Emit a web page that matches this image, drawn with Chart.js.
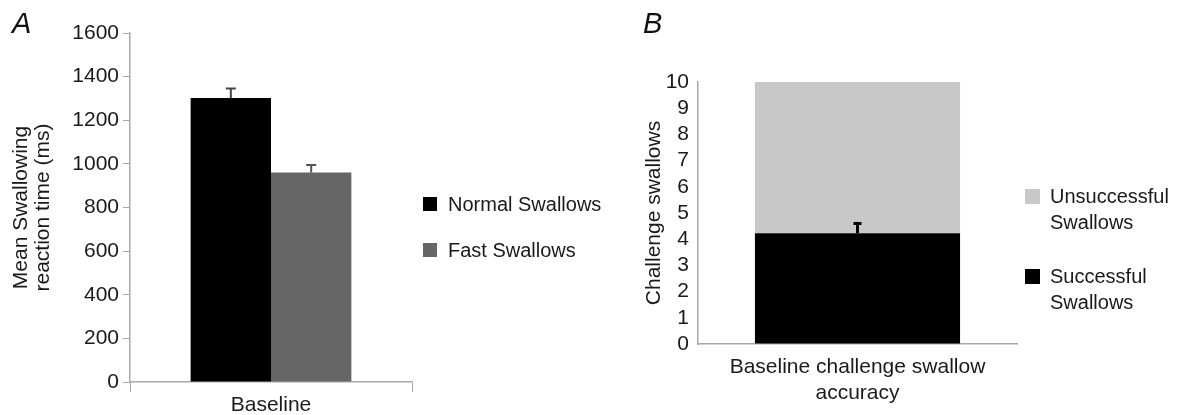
<!DOCTYPE html>
<html>
<head>
<meta charset="utf-8">
<script src="https://cdn.jsdelivr.net/npm/chart.js@4.4.1/dist/chart.umd.min.js"></script>
<style>
  body { margin: 0; background: #fff; font-family: 'Liberation Sans', Arial, sans-serif; }
  #wrap { position: relative; width: 1183px; height: 415px; overflow: hidden; }
  canvas { position: absolute; top: 0; }
  #chartA { left: 0; }
  #chartB { left: 600px; }
  .leg { position: absolute; font-size: 20px; color: #1a1a1a; line-height: 26px; white-space: nowrap; }
  .leg span.box { position: absolute; left: 0; }
  .leg span.txt { position: absolute; }
</style>
</head>
<body>
<div id="wrap">
  <canvas id="chartA" width="600" height="415"></canvas>
  <canvas id="chartB" width="583" height="415"></canvas>
  <div id="legendA"></div>
  <div id="legendB"></div>
</div>
<script>
'use strict';

// panel A - reaction time
const groupLabels = ['Baseline'];
const normalMeans = [1302];
const normalErr = [43];
const fastMeans = [960];
const fastErr = [35];
const rtTicks = [0, 200, 400, 600, 800, 1000, 1200, 1400, 1600];

// panel B - challenge swallows
const accuracyLabels = [['Baseline challenge swallow', 'accuracy']];
const successful = [4.23];
const successfulErr = [0.37];
const unsuccessful = [5.77];
const countTicks = [0, 1, 2, 3, 4, 5, 6, 7, 8, 9, 10];

Chart.defaults.font.family = "'Liberation Sans', Arial, sans-serif";
Chart.defaults.font.size = 20;
Chart.defaults.color = '#1a1a1a';

const axisGray = '#a8a8a8';
const tickFont = { size: 21 };

// draws the upward error bar on each bar that has errorBars
const errorBarPlugin = {
  id: 'errorBars',
  afterDatasetsDraw(chart) {
    const ctx = chart.ctx;
    const yScale = chart.scales.y;
    chart.data.datasets.forEach((ds, i) => {
      if (!ds.errorBars) return;
      const meta = chart.getDatasetMeta(i);
      meta.data.forEach((bar, j) => {
        const err = ds.errorBars[j];
        const top = yScale.getPixelForValue(ds.data[j] + err);
        ctx.save();
        ctx.strokeStyle = ds.errorColor;
        ctx.lineWidth = ds.errorWidth;
        ctx.beginPath();
        ctx.moveTo(bar.x, bar.y);
        ctx.lineTo(bar.x, top);
        ctx.moveTo(bar.x - ds.capHalf, top);
        ctx.lineTo(bar.x + ds.capHalf, top);
        ctx.stroke();
        ctx.restore();
      });
    });
  }
};

// panel letter (A / B) in the corner
const panelLetter = {
  id: 'panelLetter',
  afterDraw(chart, args, opts) {
    const ctx = chart.ctx;
    ctx.save();
    ctx.font = "italic 29px 'Liberation Sans', Arial, sans-serif";
    ctx.fillStyle = '#111';
    ctx.textBaseline = 'alphabetic';
    ctx.fillText(opts.text, opts.x, opts.y);
    ctx.restore();
  }
};

new Chart(document.getElementById('chartA'), {
  type: 'bar',
  data: {
    labels: groupLabels,
    datasets: [{
      label: 'Normal Swallows',
      data: normalMeans,
      backgroundColor: '#000000',
      errorBars: normalErr,
      errorColor: '#444',
      errorWidth: 2,
      capHalf: 5
    }, {
      label: 'Fast Swallows',
      data: fastMeans,
      backgroundColor: '#666666',
      errorBars: fastErr,
      errorColor: '#555',
      errorWidth: 2,
      capHalf: 5
    }]
  },
  options: {
    responsive: false,
    animation: false,
    devicePixelRatio: 1,
    layout: { padding: { top: 33, right: 188, left: 0, bottom: 0 } },
    datasets: { bar: { categoryPercentage: 0.57, barPercentage: 1.0 } },
    plugins: {
      legend: { display: false },
      tooltip: { enabled: false },
      panelLetter: { text: 'A', x: 12, y: 33 }
    },
    scales: {
      x: {
        grid: { drawOnChartArea: false, tickLength: 10, color: axisGray },
        border: { color: axisGray, width: 1.5 },
        ticks: { padding: 1, font: tickFont },
        afterFit: (s) => { s.height = 33; }
      },
      y: {
        min: 0,
        max: 1600,
        afterBuildTicks: (s) => { s.ticks = rtTicks.map(v => ({ value: v })); },
        grid: { drawOnChartArea: false, tickLength: 7, color: axisGray },
        border: { color: axisGray, width: 1.5 },
        ticks: { padding: 4, font: tickFont, autoSkip: false, callback: (v) => String(v) },
        title: {
          display: true,
          text: ['Mean Swallowing', 'reaction time (ms)'],
          font: { size: 21, lineHeight: 1.05 },
          padding: { top: 10, bottom: 0 }
        },
        afterFit: (s) => { s.width = 130; }
      }
    }
  },
  plugins: [errorBarPlugin, panelLetter]
});

new Chart(document.getElementById('chartB'), {
  type: 'bar',
  data: {
    labels: accuracyLabels,
    datasets: [{
      label: ['Successful', 'Swallows'],
      data: successful,
      backgroundColor: '#000000',
      errorBars: successfulErr,
      errorColor: '#000',
      errorWidth: 3,
      capHalf: 4
    }, {
      label: ['Unsuccessful', 'Swallows'],
      data: unsuccessful,
      backgroundColor: '#c8c8c8'
    }]
  },
  options: {
    responsive: false,
    animation: false,
    devicePixelRatio: 1,
    layout: { padding: { top: 82, right: 166, left: 0, bottom: 0 } },
    datasets: { bar: { categoryPercentage: 0.643, barPercentage: 1.0 } },
    plugins: {
      legend: { display: false },
      tooltip: { enabled: false },
      panelLetter: { text: 'B', x: 43, y: 33 }
    },
    scales: {
      x: {
        stacked: true,
        grid: { drawOnChartArea: false, drawTicks: false },
        border: { color: axisGray, width: 1.5 },
        ticks: { padding: 11, font: { size: 21, lineHeight: 1.2 } },
        afterFit: (s) => { s.height = 71; }
      },
      y: {
        stacked: true,
        min: 0,
        max: 10,
        afterBuildTicks: (s) => { s.ticks = countTicks.map(v => ({ value: v })); },
        grid: { drawOnChartArea: false, drawTicks: false },
        border: { color: axisGray, width: 1.5 },
        ticks: { padding: 9, font: tickFont, autoSkip: false },
        title: {
          display: true,
          text: 'Challenge swallows',
          font: { size: 21, lineHeight: 1.2 },
          padding: { top: 42, bottom: 0 }
        },
        afterFit: (s) => { s.width = 98; }
      }
    }
  },
  plugins: [errorBarPlugin, panelLetter]
});

// html legends, placed to the right of each panel
function makeLegend(id, items) {
  const host = document.getElementById(id);
  items.forEach(it => {
    const row = document.createElement('div');
    row.className = 'leg';
    row.style.left = it.x + 'px';
    row.style.top = it.y + 'px';
    const box = document.createElement('span');
    box.className = 'box';
    box.style.width = it.box + 'px';
    box.style.height = it.box + 'px';
    box.style.top = (13 - it.box / 2) + 'px';
    box.style.background = it.color;
    const txt = document.createElement('span');
    txt.className = 'txt';
    txt.style.left = it.textOffset + 'px';
    txt.innerHTML = [].concat(it.label).join('<br>');
    row.appendChild(box);
    row.appendChild(txt);
    host.appendChild(row);
  });
}

makeLegend('legendA', [
  { label: 'Normal Swallows', color: '#000000', x: 423, y: 191, box: 14, textOffset: 25 },
  { label: 'Fast Swallows', color: '#666666', x: 423, y: 237, box: 14, textOffset: 25 }
]);
makeLegend('legendB', [
  { label: ['Unsuccessful', 'Swallows'], color: '#c8c8c8', x: 1025, y: 183, box: 15, textOffset: 25 },
  { label: ['Successful', 'Swallows'], color: '#000000', x: 1025, y: 263, box: 15, textOffset: 25 }
]);
</script>
</body>
</html>
